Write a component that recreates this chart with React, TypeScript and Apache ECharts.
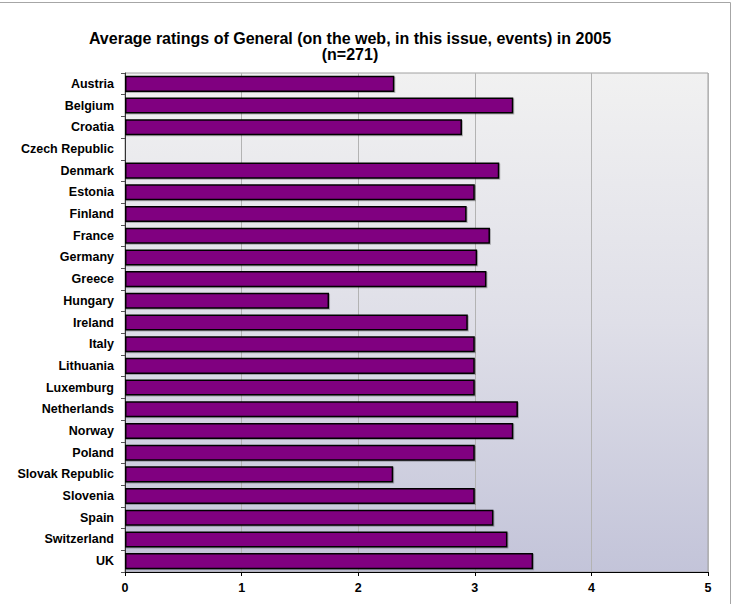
import React, { useEffect, useRef } from "react";
import * as echarts from "echarts";

const titleLines = [
  "Average ratings of General (on the web, in this issue, events) in 2005",
  "(n=271)",
];

const countries = [
  "Austria", "Belgium", "Croatia", "Czech Republic", "Denmark", "Estonia",
  "Finland", "France", "Germany", "Greece", "Hungary", "Ireland", "Italy",
  "Lithuania", "Luxemburg", "Netherlands", "Norway", "Poland",
  "Slovak Republic", "Slovenia", "Spain", "Switzerland", "UK",
];

const ratings: (number | null)[] = [
  2.31, 3.33, 2.89, null, 3.21, 3.0,
  2.93, 3.13, 3.02, 3.1, 1.75, 2.94, 3.0,
  3.0, 3.0, 3.37, 3.33, 3.0,
  2.3, 3.0, 3.16, 3.28, 3.5,
];

const xTicks = { min: 0, max: 5, interval: 1 };

const FONT = "'Liberation Sans', Arial, sans-serif";

export default function App() {
  const ref = useRef<HTMLDivElement>(null);
  useEffect(() => {
    if (!ref.current) return;
    const chart = echarts.init(ref.current, undefined, { renderer: "svg" });
    chart.setOption({
      animation: false,
      backgroundColor: "#ffffff",
      graphic: [
        {
          type: "rect",
          z: -10,
          shape: { x: -20, y: 2.5, width: 750.5, height: 640 },
          style: { fill: "none", stroke: "#a6a6a6", lineWidth: 1 },
          silent: true,
        },
        {
          type: "text",
          x: 350,
          y: 38,
          style: {
            text: titleLines[0],
            font: `bold 16px ${FONT}`,
            fill: "#000",
            textAlign: "center",
            textVerticalAlign: "middle",
          },
        },
        {
          type: "text",
          x: 350,
          y: 54,
          style: {
            text: titleLines[1],
            font: `bold 16px ${FONT}`,
            fill: "#000",
            textAlign: "center",
            textVerticalAlign: "middle",
          },
        },
      ],
      grid: {
        left: 125,
        right: 35,
        top: 73,
        bottom: 32,
        show: true,
        borderColor: "#a0a0a0",
        borderWidth: 1,
        backgroundColor: {
          type: "linear",
          x: 0,
          y: 0,
          x2: 0,
          y2: 1,
          colorStops: [
            { offset: 0, color: "#f1f1f1" },
            { offset: 0.5, color: "#dfdfe8" },
            { offset: 1, color: "#c3c4d9" },
          ],
        },
      },
      xAxis: {
        type: "value",
        min: xTicks.min,
        max: xTicks.max,
        interval: xTicks.interval,
        axisLine: { show: true, lineStyle: { color: "#000", width: 1 } },
        axisTick: { show: true, length: 4, lineStyle: { color: "#000" } },
        axisLabel: {
          color: "#000",
          fontFamily: FONT,
          fontWeight: "bold",
          fontSize: 12.5,
          margin: 9,
        },
        splitLine: { show: true, lineStyle: { color: "#b3b3b3", width: 1 } },
      },
      yAxis: {
        type: "category",
        data: countries,
        inverse: true,
        axisLine: { show: true, lineStyle: { color: "#333", width: 1 } },
        axisTick: { show: true, length: 4, lineStyle: { color: "#555" } },
        axisLabel: {
          color: "#000",
          fontFamily: FONT,
          fontWeight: "bold",
          fontSize: 12.5,
          margin: 11,
        },
        splitLine: { show: false },
      },
      series: [
        {
          type: "bar",
          data: ratings.map((v) => (v === null ? "-" : v)),
          barCategoryGap: "26%",
          itemStyle: {
            color: "#800080",
            borderColor: "#000",
            borderWidth: 1.5,
            shadowColor: "rgba(0,0,0,0.25)",
            shadowOffsetX: 1,
            shadowOffsetY: 1,
            shadowBlur: 0,
          },
        },
      ],
    });
    return () => chart.dispose();
  }, []);
  return (
    <div
      ref={ref}
      style={{ position: "fixed", left: 0, top: 0, width: 743, height: 604 }}
    />
  );
}
